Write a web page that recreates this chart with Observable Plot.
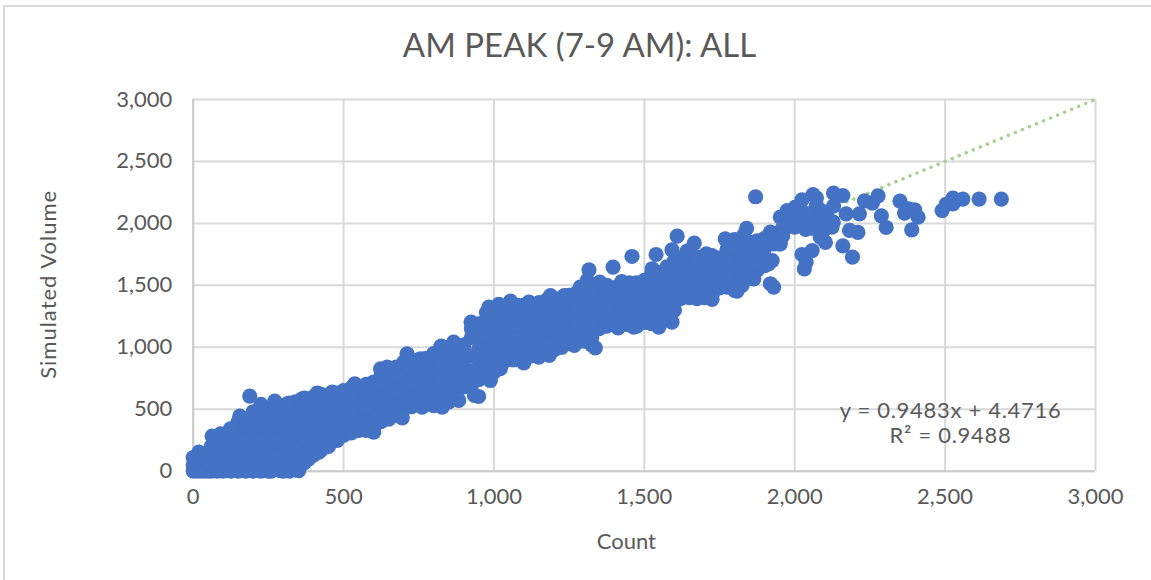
<!DOCTYPE html>
<html>
<head>
<meta charset="utf-8">
<script src="https://cdn.jsdelivr.net/npm/d3@7"></script>
<script src="https://cdn.jsdelivr.net/npm/@observablehq/plot@0.6"></script>
<style>
  html, body { margin: 0; padding: 0; background: #fff; }
  #chart { position: relative; width: 1151px; height: 580px; overflow: hidden; font-family: Lato, sans-serif; }
  #frame { position: absolute; left: 3px; top: 5px; right: -5px; bottom: -5px; border: 2px solid #d9d9d9; }
  #title { position: absolute; left: 0; top: 24px; width: 1159px; text-align: center; font-size: 33px; line-height: 40px; color: #595959; }
  #plot { position: absolute; left: 0; top: 60px; }
</style>
</head>
<body>
<div id="chart">
  <div id="frame"></div>
  <div id="title"></div>
  <div id="plot"></div>
</div>
<script>
const titleText = "AM PEAK (7-9 AM): ALL";
const xLabel = "Count";
const yLabel = "Simulated Volume";
const tickValues = [0, 500, 1000, 1500, 2000, 2500, 3000];
const fitLine = [[0, 0], [3000, 3000]];
const fitText = [
  {x: 2518, y: 490, text: "y = 0.9483x + 4.4716"},
  {x: 2518, y: 288, text: "R² = 0.9488"}
];

// [count, simulated volume]
const upperPoints = [
  [2687,2196],[2613,2196],[2559,2196],[2526,2204],[2526,2158],[2503,2153],[2490,2104],
  [2410,2050],[2399,2110],[2365,2083],[2379,2118],[2350,2180],[2389,1948],[2304,1967],
  [2288,2061],[2277,2222],[2258,2163],[2232,2182],[2215,2077],[2171,2077],[2160,2225],
  [2129,2244],[2129,2139],[2210,1927],[2182,1943],[2128,2010],[2160,1819],[2192,1728],
  [2124,1970],[2102,1846],[2085,1889],[2072,2144],[2072,2206],[2061,2233],[2024,2190],
  [2002,2131],[1975,2104],[1952,2050],[2074,2023],[2047,2023],[2036,1951],[1986,1978],
  [1958,1956],[1947,1835],[2058,1781],[2024,1749],[2038,1687],[2032,1633],[2096,1943],
  [2060,1960],[2020,2040],[1990,2090],[1870,2215],
  [2030,2010],[2050,1990],[2085,1990],[2100,2000],[2110,2040],[2060,2060],[2040,2080],
  [1990,2030],[1970,2000],[2000,1970],[1960,1900],[2000,2060],[2090,2100]
];
const middleOutliers = [
  [1609,1897],[1666,1841],[1642,1776],[1592,1787],[1539,1749],[1459,1733],[1396,1647],
  [1316,1625],[1352,1526],[1526,1634],[1769,1876],[1830,1903],[1919,1930],[1930,1835],
  [1875,1835],[1952,1835],[1913,1674],[1875,1687],[1919,1513],[1930,1486],[1864,1553],
  [1808,1453],[1775,1486],[1725,1386],[1675,1392],[1620,1392],[1706,1755],[1592,1203],
  [1548,1163],[1465,1163],[1413,1157],[1337,996],[1267,1015],[1184,934],[1149,921],
  [1099,875],[1062,899],[1021,827],[988,732],[949,603],[983,1324],[1016,1346],[1055,1373],
  [1116,1365],[1188,1418],[1234,1418],[1287,1486],[1310,1540],[1409,1486],[1465,1513],
  [1531,1540],[1840,1960],[1780,1800]
];
const middleBody = [
  [950,740],[950,900],[950,1080],[950,1190],[1000,800],[1000,950],[1000,1100],[1000,1300],
  [1050,900],[1050,1050],[1050,1200],[1050,1340],[1100,900],[1100,1030],[1100,1180],[1100,1340],
  [1150,950],[1150,1100],[1150,1250],[1150,1360],[1200,980],[1200,1100],[1200,1250],[1200,1390],
  [1250,1030],[1250,1180],[1250,1320],[1250,1420],[1300,1050],[1300,1200],[1300,1350],[1300,1470],
  [1350,1150],[1350,1300],[1350,1450],[1350,1520],[1400,1180],[1400,1320],[1400,1480],
  [1450,1180],[1450,1300],[1450,1450],[1450,1520],[1500,1200],[1500,1350],[1500,1500],[1500,1540],
  [1550,1180],[1550,1300],[1550,1450],[1550,1600],[1600,1300],[1600,1450],[1600,1600],[1600,1700],
  [1650,1400],[1650,1500],[1650,1650],[1650,1720],[1700,1400],[1700,1550],[1700,1700],
  [1750,1480],[1750,1600],[1750,1720],[1800,1460],[1800,1600],[1800,1750],[1800,1870],
  [1850,1560],[1850,1700],[1850,1850],[1900,1660],[1900,1800],[1900,1880]
];
const middleFill = [
  [925,690],[925,810],[925,930],[925,1080],[925,1150],[975,780],[975,900],[975,1030],[975,1170],[975,1280],
  [1025,860],[1025,980],[1025,1110],[1025,1230],[1025,1310],[1075,900],[1075,1000],[1075,1120],[1075,1250],[1075,1340],
  [1125,930],[1125,1050],[1125,1180],[1125,1300],[1125,1350],[1175,960],[1175,1090],[1175,1200],[1175,1320],[1175,1380],
  [1225,1000],[1225,1120],[1225,1250],[1225,1370],[1225,1400],[1275,1040],[1275,1150],[1275,1270],[1275,1400],[1275,1440],
  [1325,1020],[1325,1130],[1325,1270],[1325,1400],[1325,1500],[1375,1170],[1375,1240],[1375,1370],[1375,1500],
  [1425,1180],[1425,1250],[1425,1380],[1425,1490],[1425,1530],[1475,1170],[1475,1270],[1475,1400],[1475,1520],
  [1525,1190],[1525,1260],[1525,1390],[1525,1530],[1525,1600],[1575,1240],[1575,1370],[1575,1520],[1575,1650],
  [1625,1400],[1625,1520],[1625,1650],[1625,1720],[1675,1420],[1675,1560],[1675,1690],[1675,1730],
  [1725,1420],[1725,1520],[1725,1640],[1725,1740],[1775,1500],[1775,1650],[1775,1790],[1775,1860],
  [1825,1500],[1825,1640],[1825,1780],[1825,1880],[1875,1620],[1875,1740],[1875,1860],[1925,1700],[1925,1850]
];
const middleDense = [
  [950,820],[950,990],[950,1135],[1000,875],[1000,1025],[1000,1200],[1050,975],[1050,1125],[1050,1270],
  [1100,965],[1100,1105],[1100,1260],[1150,1025],[1150,1175],[1150,1305],[1200,1040],[1200,1175],[1200,1320],
  [1250,1105],[1250,1250],[1250,1370],[1300,1125],[1300,1275],[1300,1410],[1350,1225],[1350,1375],[1350,1485],
  [1400,1250],[1400,1400],[1450,1240],[1450,1375],[1450,1485],[1500,1275],[1500,1425],[1500,1520],
  [1550,1240],[1550,1375],[1550,1525],[1600,1375],[1600,1525],[1600,1650],[1650,1450],[1650,1575],[1650,1685],
  [1700,1475],[1700,1625],[1750,1540],[1750,1660],[1800,1530],[1800,1675],[1800,1810],[1850,1630],[1850,1775],
  [1900,1730],[1900,1840],[975,840],[975,965],[975,1100],[975,1225],[1025,920],[1025,1045],[1025,1170],[1025,1270],
  [1075,950],[1075,1060],[1075,1185],[1075,1295],[1125,990],[1125,1115],[1125,1240],[1125,1325],
  [1175,1025],[1175,1145],[1175,1260],[1175,1350],[1225,1060],[1225,1185],[1225,1310],[1225,1385],
  [1275,1095],[1275,1210],[1275,1335],[1275,1420],[1325,1075],[1325,1200],[1325,1335],[1325,1450],
  [1375,1205],[1375,1305],[1375,1435],[1425,1215],[1425,1315],[1425,1435],[1425,1510],[1475,1220],[1475,1335],[1475,1460],
  [1525,1225],[1525,1325],[1525,1460],[1525,1565],[1575,1305],[1575,1445],[1575,1585],[1625,1460],[1625,1585],[1625,1685],
  [1675,1490],[1675,1625],[1675,1710],[1725,1470],[1725,1580],[1725,1690],[1775,1575],[1775,1720],
  [1825,1570],[1825,1710],[1825,1830],[1875,1680],[1875,1800]
];
const lowerOutliers = [
  [188,606],[155,444],[63,283],[91,302],[19,154],[0,110],[124,342],[271,565],[312,544],
  [362,584],[412,630],[462,638],[537,705],[623,826],[645,840],[711,947],[756,907],[822,1001],
  [866,1041],[924,1203],[351,5],[290,5],[384,100],[418,154],[479,248],[529,315],[600,315],
  [695,431],[761,517],[828,517],[883,571],[935,611]
];
const lowerBody = [
  [10,10],[10,60],[30,0],[30,80],[60,0],[60,100],[60,200],[100,0],[100,100],[100,200],[100,280],
  [150,0],[150,100],[150,200],[150,300],[150,400],[200,0],[200,120],[200,240],[200,360],[200,480],
  [250,0],[250,120],[250,240],[250,360],[250,500],[300,0],[300,130],[300,260],[300,390],[300,530],
  [340,10],[340,140],[340,280],[340,420],[340,560],[400,130],[400,280],[400,440],[400,600],
  [450,200],[450,330],[450,480],[450,610],[500,290],[500,400],[500,530],[500,650],
  [550,330],[550,450],[550,600],[550,680],[600,340],[600,480],[600,620],[600,720],
  [650,420],[650,560],[650,700],[650,800],[700,500],[700,620],[700,780],[700,880],
  [750,540],[750,680],[750,830],[750,900],[800,530],[800,650],[800,800],[800,950],
  [850,560],[850,700],[850,850],[850,1000],[900,680],[900,840],[900,1020]
];
const lowerFill = [
  [25,30],[25,110],[45,20],[45,130],[80,50],[80,150],[80,250],[125,50],[125,150],[125,250],[125,340],
  [175,60],[175,180],[175,300],[175,420],[225,60],[225,180],[225,300],[225,430],[225,540],
  [275,60],[275,180],[275,300],[275,430],[275,550],[320,60],[320,190],[320,320],[320,460],[320,550],
  [370,70],[370,200],[370,340],[370,480],[370,590],[425,170],[425,300],[425,430],[425,540],[425,620],
  [475,260],[475,370],[475,500],[475,630],[525,310],[525,430],[525,560],[525,670],
  [575,330],[575,460],[575,590],[575,700],[625,400],[625,530],[625,660],[625,770],[625,820],
  [675,450],[675,580],[675,710],[675,840],[725,520],[725,650],[725,770],[725,890],
  [775,540],[775,660],[775,790],[775,910],[825,540],[825,660],[825,790],[825,920],[825,1010],
  [875,600],[875,720],[875,860],[875,1010]
];
const lowerDense = [
  [0,0],[0,50],[5,100],[15,0],[45,0],[80,0],[125,0],[175,0],[225,0],[260,0],[320,0],
  [60,50],[60,150],[100,50],[100,150],[100,240],[150,50],[150,150],[150,250],[150,350],
  [200,60],[200,180],[200,300],[200,420],[250,60],[250,180],[250,300],[250,430],
  [300,65],[300,195],[300,325],[300,460],[340,75],[340,210],[340,350],[340,490],
  [400,205],[400,360],[400,520],[450,265],[450,405],[450,545],[500,345],[500,465],[500,590],
  [550,390],[550,525],[550,640],[600,410],[600,550],[600,670],[650,490],[650,630],[650,750],
  [700,560],[700,700],[700,830],[750,610],[750,755],[750,865],[800,590],[800,725],[800,875],
  [850,630],[850,775],[850,925],[900,760],[900,930],
  [125,100],[125,200],[125,295],[175,120],[175,240],[175,360],[225,120],[225,240],[225,365],[225,485],
  [275,120],[275,240],[275,365],[275,490],[320,125],[320,255],[320,390],[320,505],
  [370,135],[370,270],[370,410],[370,535],[425,235],[425,365],[425,485],[425,580],
  [475,315],[475,435],[475,565],[525,370],[525,495],[525,615],[575,395],[575,525],[575,645],
  [625,465],[625,595],[625,715],[675,515],[675,645],[675,775],[725,585],[725,710],[725,830],
  [775,600],[775,725],[775,850],[825,600],[825,725],[825,855],[825,965],[875,660],[875,790],[875,935]
];
const points = [...lowerBody, ...lowerFill, ...lowerDense, ...lowerOutliers, ...middleBody, ...middleFill, ...middleDense, ...middleOutliers, ...upperPoints];

document.getElementById("title").textContent = titleText;

const textColor = "#595959";
const gridColor = "#d9d9d9";
const fontFamily = "Lato, sans-serif";
const chart = Plot.plot({
  width: 1151,
  height: 520,
  marginLeft: 192.7,
  marginRight: 56,
  marginTop: 39,
  marginBottom: 109.3,
  style: {fontFamily, fontSize: "22px", color: textColor, background: "transparent", overflow: "visible"},
  x: {domain: [0, 3000], ticks: tickValues, tickFormat: d3.format(",")},
  y: {domain: [0, 3000], ticks: tickValues, tickFormat: d3.format(",")},
  marks: [
    Plot.gridX(tickValues, {stroke: gridColor, strokeOpacity: 1, strokeWidth: 2}),
    Plot.gridY(tickValues, {stroke: gridColor, strokeOpacity: 1, strokeWidth: 2}),
    Plot.ruleY([0], {stroke: "#cccccc", strokeWidth: 2}),
    Plot.ruleX([0], {stroke: "#cccccc", strokeWidth: 2}),
    Plot.axisX({ticks: tickValues, tickSize: 0, tickPadding: 17, tickFormat: d3.format(","), label: null, fill: textColor}),
    Plot.axisY({ticks: tickValues, tickSize: 0, tickPadding: 21, tickFormat: d3.format(","), label: null, fill: textColor}),
    Plot.text([xLabel], {text: d => d, frameAnchor: "bottom", dx: -18, dy: 71, lineAnchor: "middle", fontSize: 22, fill: textColor}),
    Plot.text([yLabel], {text: d => d, frameAnchor: "left", textAnchor: "middle", lineAnchor: "middle", dx: -144, dy: -1, rotate: -90, fontSize: 22, fill: textColor}),
    Plot.line(fitLine, {x: d => d[0], y: d => d[1], stroke: "#a9d18e", strokeWidth: 3.5, strokeDasharray: "0.1 7.5", strokeLinecap: "round"}),
    Plot.dot(points, {x: d => d[0], y: d => d[1], r: 7.6, fill: "#4472c4", stroke: "none"}),
    Plot.text(fitText, {x: "x", y: "y", text: "text", fontSize: 22, fill: textColor, textAnchor: "middle"})
  ]
});
d3.select(chart).selectAll("text").filter(function () { return /0\.94/.test(this.textContent); }).style("letter-spacing", "0.7px");
d3.select(chart).selectAll("text").filter(function () { return this.textContent === yLabel; }).style("letter-spacing", "1px");
document.getElementById("plot").appendChild(chart);
</script>
</body>
</html>
